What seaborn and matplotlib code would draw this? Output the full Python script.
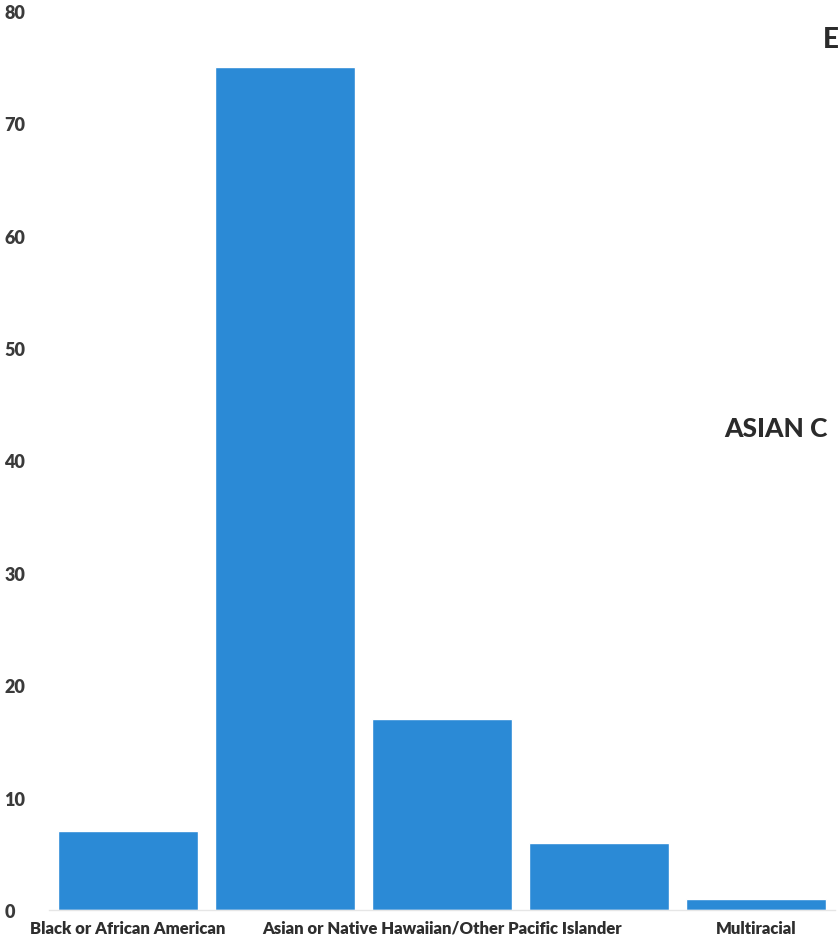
import numpy as np
import pandas as pd
import matplotlib.pyplot as plt
import seaborn as sns

# 막대 값
groups = ['Black or African American', 'Asian',
          'Asian or Native Hawaiian/Other Pacific Islander',
          'Hispanic or Latino', 'Multiracial']
counts = [7, 75, 17, 6, 1]
# 원본에서는 일부 라벨만 보임
shown_ticks = [0, 2, 4]
shown_labels = ['Black or African American',
                'Asian or Native Hawaiian/Other Pacific Islander',
                'Multiracial']
yticks = [0, 10, 20, 30, 40, 50, 60, 70, 80]

df = pd.DataFrame({'group': groups, 'count': counts})

sns.set_style('white')
plt.rcParams['font.family'] = ['Lato', 'DejaVu Sans']

fig = plt.figure(figsize=(8.38, 9.45), dpi=100)
ax = fig.add_axes([49 / 838, 34 / 945, 786 / 838, 899 / 945])

sns.barplot(data=df, x='group', y='count', color='#2b8ad6',
            width=0.89, saturation=1, ax=ax)

ax.set_ylim(0, 80)
ax.set_xlim(-0.5, 4.5)
ax.set_yticks(yticks)
ax.set_yticklabels([str(t) for t in yticks], fontsize=13,
                   fontweight='heavy', color='#3a3a3a')
for lab in ax.get_yticklabels():
    lab.set_ha('left')
ax.tick_params(axis='y', length=0, pad=32)

ax.set_xticks(shown_ticks)
ax.set_xticklabels(shown_labels, fontsize=12, fontweight='heavy',
                   color='#2e2e2e')
ax.tick_params(axis='x', length=0, pad=7)
ax.set_xlabel('')
ax.set_ylabel('')

sns.despine(ax=ax, left=True, right=True, top=True, bottom=False)
ax.spines['bottom'].set_color('#e6e6e6')
ax.spines['bottom'].set_linewidth(1)

# 오른쪽 가장자리에 보이는 제목 조각
fig.text(823 / 838, 1 - 48 / 945, 'E', fontsize=20,
         fontweight='black', color='#2b2b2b', ha='left', va='baseline')
fig.text(724 / 838, 1 - 437 / 945, 'ASIAN C', fontsize=19,
         fontweight='black', color='#2b2b2b', ha='left', va='baseline')

plt.savefig('out.png', dpi=100)
